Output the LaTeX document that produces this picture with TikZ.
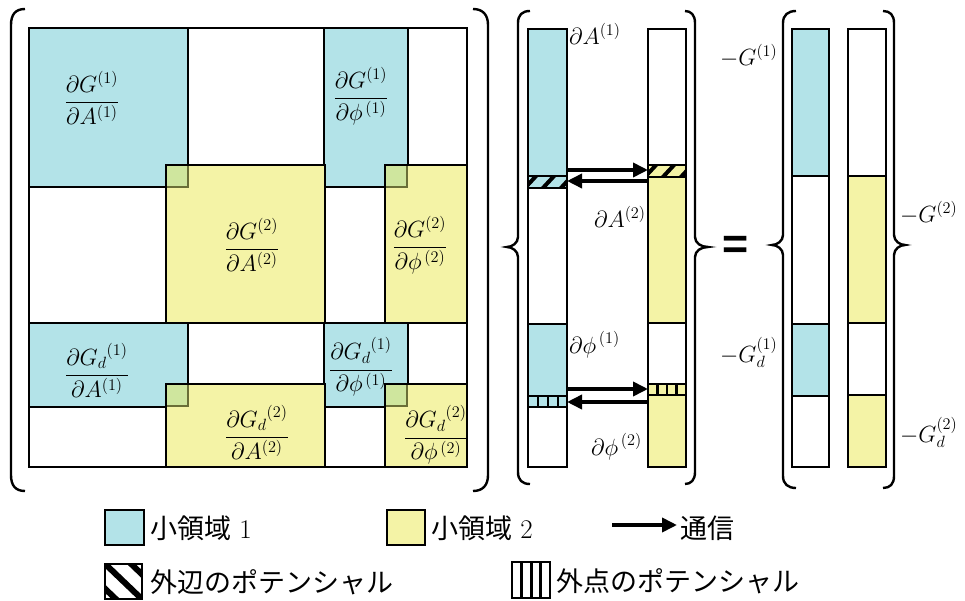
\documentclass[tikz,border=0pt]{standalone}
\usepackage{fontspec}
\newfontfamily\cjk{Noto Sans CJK JP}
\newfontfamily\djv{DejaVu Sans}
\usetikzlibrary{arrows.meta}
\definecolor{cy}{RGB}{179,227,232}
\definecolor{ye}{RGB}{244,243,166}
\definecolor{ov}{RGB}{207,230,158}
\definecolor{ovl}{RGB}{105,110,55}
\newcommand{\mbig}[1]{\scalebox{1.13}{$\displaystyle #1$}}
\tikzset{
  blk/.style={draw=black, line width=1.6pt},
  paren/.style={draw=black, line width=2.4pt},
  mlbl/.style={font=\fontsize{20.74}{25}\selectfont, inner sep=0pt},
  jlbl/.style={font=\fontsize{27}{30}\selectfont, inner sep=0pt, anchor=west},
  comm/.style={line width=3.6pt, -{Triangle[length=15pt,width=14pt]}},
  slash/.style={line width=4pt, black},
}
\begin{document}
\begin{tikzpicture}[x=1pt,y=-1pt]
\useasboundingbox (0,0) rectangle (965,601);
% ---------------- matrix ----------------
\draw[blk] (29,28) rectangle (467,467);
\foreach \a/\b/\c/\d in {29/28/188/187, 324/28/408/187, 29/323/188/407, 324/323/408/407}
  \draw[blk, fill=cy] (\a,\b) rectangle (\c,\d);
\foreach \a/\b/\c/\d in {166/165/325/323, 385/165/467/323, 166/384/325/467, 385/384/467/467}
  \draw[blk, fill=ye] (\a,\b) rectangle (\c,\d);
\foreach \a/\b in {166/165, 385/165, 166/384, 385/384}{
  \fill[ov] (\a+0.8,\b+0.8) rectangle (\a+22,\b+22);
  \draw[line width=1.6pt, ovl] (\a+22,\b) -- (\a+22,\b+22) -- (\a,\b+22);
}
\foreach \a/\b/\c/\d in {166/165/325/323, 385/165/467/323, 166/384/325/467, 385/384/467/467}
  \draw[blk] (\a,\b) rectangle (\c,\d);
\draw[blk] (29,28) rectangle (467,467);
% fractions
\node[mlbl] (f11) at (92,98)  {\mbig{\frac{\partial G^{(1)}}{\partial A^{(1)}}}};
\node[mlbl] (f13) at (361,96) {\mbig{\frac{\partial G^{(1)}}{\partial \phi^{\,(1)}}}};
\node[mlbl] (f22) at (252,245) {\mbig{\frac{\partial G^{(2)}}{\partial A^{(2)}}}};
\node[mlbl] (f24) at (420,245) {\mbig{\frac{\partial G^{(2)}}{\partial \phi^{\,(2)}}}};
\node[mlbl] (f31) at (97,370) {\mbig{\frac{{\partial G_d}^{(1)}}{\partial A^{(1)}}}};
\node[mlbl] (f32) at (257,432) {\mbig{\frac{{\partial G_d}^{(2)}}{\partial A^{(2)}}}};
\node[mlbl] (f33) at (361,367) {\mbig{\frac{{\partial G_d}^{(1)}}{\partial \phi^{\,(1)}}}};
\node[mlbl] (f34) at (436,435) {\mbig{\frac{{\partial G_d}^{(2)}}{\partial \phi^{\,(2)}}}};
% parentheses
\draw[paren] (25,9) .. controls (15,9) and (11,15) .. (11,25) -- (11,475) .. controls (11,485) and (15,491) .. (25,491);
\draw[paren] (473,9) .. controls (483,9) and (488,15) .. (488,25) -- (488,475) .. controls (488,485) and (483,491) .. (473,491);
% ---------------- middle vectors ----------------
\fill[cy] (528,29) rectangle (567,188);
\fill[cy] (528,324) rectangle (567,407);
\begin{scope}
  \clip (528,176) rectangle (567,188);
  \foreach \x in {530,548,566} \draw[slash] (\x-6,189) -- (\x+7,175);
\end{scope}
\draw[blk] (528,29) rectangle (567,467);
\foreach \y in {176,188,324,396,407} \draw[blk] (528,\y) -- (567,\y);
\foreach \x in {538,548,558} \draw[line width=2.4pt] (\x,396) -- (\x,407);
\fill[ye] (648,165) rectangle (686,323);
\fill[ye] (648,384) rectangle (686,467);
\begin{scope}
  \clip (648,165) rectangle (686,177);
  \foreach \x in {650,668,686} \draw[slash] (\x-6,178) -- (\x+7,164);
\end{scope}
\draw[blk] (648,29) rectangle (686,467);
\foreach \y in {165,177,323,384,395} \draw[blk] (648,\y) -- (686,\y);
\foreach \x in {657.5,667,676.5} \draw[line width=2.4pt] (\x,384) -- (\x,395);
\node[mlbl, anchor=base west] (dA1) at (569,45) {\mbig{\partial A^{(1)}}};
\node[mlbl, anchor=base west] (dA2) at (594,228) {\mbig{\partial A^{(2)}}};
\node[mlbl, anchor=base west] (dp1) at (569,353) {\mbig{\partial \phi^{\,(1)}}};
\node[mlbl, anchor=base west] (dp2) at (591,455) {\mbig{\partial \phi^{\,(2)}}};
% communication arrows
\coordinate (t1s) at (567,170); \coordinate (t1e) at (648,170);
\coordinate (t2s) at (648,181); \coordinate (t2e) at (567,181);
\coordinate (b1s) at (567,389); \coordinate (b1e) at (648,389);
\coordinate (b2s) at (648,402); \coordinate (b2e) at (567,402);
\draw[comm] (t1s) -- (t1e);
\draw[comm] (t2s) -- (t2e);
\draw[comm] (b1s) -- (b1e);
\draw[comm] (b2s) -- (b2e);
% braces
\draw[paren] (530,11) .. controls (522,11) and (518,15) .. (518,23) -- (518,237) .. controls (518,243) and (512,247) .. (507,247) .. controls (512,247) and (518,251) .. (518,257) -- (518,472) .. controls (518,480) and (522,484) .. (530,484);
\draw[paren] (685,11) .. controls (691,11) and (695,15) .. (695,23) -- (695,237) .. controls (695,243) and (701,247) .. (708,247) .. controls (701,247) and (695,251) .. (695,257) -- (695,472) .. controls (695,480) and (691,484) .. (685,484);
\node[font=\fontsize{36}{36}\djv, inner sep=0pt] (eq) at (736,249) {\scalebox{1}[1.6]{=}};
% ---------------- right vectors ----------------
\draw[blk, fill=cy] (792,29) rectangle (829,176);
\draw[blk] (792,176) rectangle (829,324);
\draw[blk, fill=cy] (792,324) rectangle (829,396);
\draw[blk] (792,396) rectangle (829,467);
\draw[blk] (848,29) rectangle (886,176);
\draw[blk, fill=ye] (848,176) rectangle (886,323);
\draw[blk] (848,323) rectangle (886,395);
\draw[blk, fill=ye] (848,395) rectangle (886,467);
\draw[paren] (796,11) .. controls (788,11) and (783,15) .. (783,23) -- (783,235) .. controls (783,241) and (777,245) .. (772,245) .. controls (777,245) and (783,249) .. (783,255) -- (783,476) .. controls (783,484) and (788,488) .. (796,488);
\draw[paren] (883,11) .. controls (890,11) and (894,15) .. (894,23) -- (894,235) .. controls (894,241) and (900,245) .. (905,245) .. controls (900,245) and (894,249) .. (894,255) -- (894,476) .. controls (894,484) and (890,488) .. (883,488);
\node[mlbl, anchor=base west] (g1) at (720,66) {\mbig{-G^{(1)}}};
\node[mlbl, anchor=base west] (g2) at (900,223) {\mbig{-G^{(2)}}};
\node[mlbl, anchor=base west] (gd1) at (720,362) {\mbig{-G_d^{(1)}}};
\node[mlbl, anchor=base west] (gd2) at (900,442) {\mbig{-G_d^{(2)}}};
% ---------------- legend ----------------
\draw[blk, line width=2pt, fill=cy] (105,510) rectangle (144,545);
\node[jlbl] (l1) at (150,528) {{\cjk 小領域} 1};
\draw[blk, line width=2pt, fill=ye] (387,510) rectangle (425,545);
\node[jlbl] (l2) at (431,528) {{\cjk 小領域} 2};
\coordinate (la1) at (612,525); \coordinate (la2) at (677,525);
\draw[comm] (la1) -- (la2);
\node[jlbl] (l3) at (680,528) {\cjk 通信};
\begin{scope}
  \clip (105,564) rectangle (142,599);
  \foreach \d in {-26,0,26} \draw[line width=6pt] (105+\d-5,564-5) -- (142+\d+5,599+5);
\end{scope}
\draw[blk, line width=2pt] (105,564) rectangle (142,599);
\node[jlbl] (l4) at (150,582) {\cjk 外辺のポテンシャル};
\draw[blk, line width=2pt] (512,562) rectangle (550,598);
\foreach \x in {521.5,531,540.5} \draw[line width=3pt] (\x,562) -- (\x,598);
\node[jlbl] (l5) at (556,581) {\cjk 外点のポテンシャル};
\end{tikzpicture}
\end{document}
